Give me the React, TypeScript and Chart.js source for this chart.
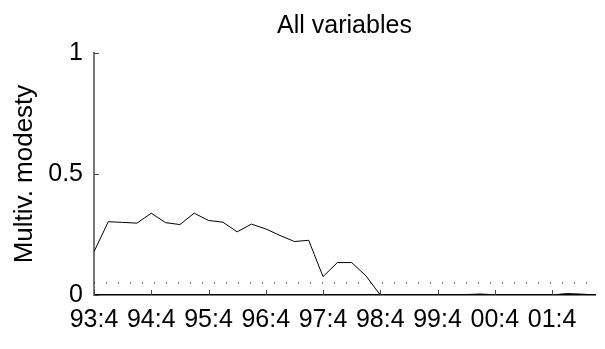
import React, { useEffect, useRef } from "react";
import { Chart, registerables } from "chart.js";

Chart.register(...registerables);

const titleText = "All variables";
const yAxisTitle = "Multiv. modesty";

const quarters = [
  "93:4",
  "94:1", "94:2", "94:3", "94:4",
  "95:1", "95:2", "95:3", "95:4",
  "96:1", "96:2", "96:3", "96:4",
  "97:1", "97:2", "97:3", "97:4",
  "98:1", "98:2", "98:3", "98:4",
  "99:1", "99:2", "99:3", "99:4",
  "00:1", "00:2", "00:3", "00:4",
  "01:1", "01:2", "01:3", "01:4",
  "02:1", "02:2", "02:3",
];

const modesty = [
  0.179, 0.303, 0.3, 0.297, 0.338, 0.299, 0.291, 0.338, 0.308, 0.301,
  0.261, 0.293, 0.273, 0.246, 0.221, 0.226, 0.076, 0.134, 0.134, 0.079,
  0, 0, 0, 0, 0, 0, 0.002, 0.004, 0.001, 0,
  0, 0, 0, 0.006, 0.004, 0,
];

const threshold = 0.05;
const xTickLabels = ["93:4", "94:4", "95:4", "96:4", "97:4", "98:4", "99:4", "00:4", "01:4"];
const yTickValues = [0, 0.5, 1];

const FONT = '"Liberation Sans", Arial, Helvetica, sans-serif';

export default function App() {
  const ref = useRef<HTMLCanvasElement | null>(null);

  useEffect(() => {
    const canvas = ref.current;
    if (!canvas) return;

    const overlay = {
      id: "overlay",
      afterDraw(chart: any) {
        const { ctx, chartArea, scales } = chart;
        const xs = scales.x;
        const ys = scales.y;
        ctx.save();
        // inward tick marks
        ctx.strokeStyle = "#444";
        ctx.lineWidth = 1;
        xTickLabels.forEach((lab) => {
          const i = quarters.indexOf(lab);
          const px = Math.round(xs.getPixelForValue(i)) + 0.5;
          ctx.beginPath();
          ctx.moveTo(px, chartArea.bottom);
          ctx.lineTo(px, chartArea.bottom - 5);
          ctx.stroke();
        });
        yTickValues.forEach((v) => {
          const py = Math.round(ys.getPixelForValue(v)) + 0.5;
          ctx.beginPath();
          ctx.moveTo(chartArea.left, py);
          ctx.lineTo(chartArea.left + 5, py);
          ctx.stroke();
        });
        // title
        ctx.fillStyle = "#000";
        ctx.font = "25px " + FONT;
        ctx.textAlign = "center";
        ctx.textBaseline = "alphabetic";
        ctx.fillText(titleText, (chartArea.left + chartArea.right) / 2, 33);
        ctx.restore();
      },
    };

    const chart = new Chart(canvas, {
      type: "line",
      data: {
        labels: quarters,
        datasets: [
          {
            data: modesty,
            borderColor: "#000",
            borderWidth: 1,
            pointRadius: 0,
            fill: false,
            tension: 0,
          },
          {
            data: [
              { x: quarters[0], y: threshold },
              { x: quarters[quarters.length - 1], y: threshold },
            ] as any,
            borderColor: "#000",
            borderWidth: 1,
            borderDash: [1, 11],
            pointRadius: 0,
            fill: false,
          },
        ],
      },
      options: {
        animation: false,
        responsive: false,
        devicePixelRatio: 1,
        layout: { padding: { top: 53, right: 5, left: 0, bottom: 0 } },
        plugins: {
          legend: { display: false },
          title: { display: false },
          tooltip: { enabled: false },
        },
        scales: {
          x: {
            type: "category",
            offset: false,
            grid: { display: false, drawTicks: false },
            border: { display: true, color: "#000", width: 1.5 },
            ticks: {
              autoSkip: false,
              maxRotation: 0,
              minRotation: 0,
              padding: 10,
              color: "#000",
              font: { family: FONT, size: 25 },
              callback: (_v: any, i: number) =>
                xTickLabels.includes(quarters[i]) ? quarters[i] : "",
            },
            afterFit: (s: any) => {
              s.height = 54;
            },
          },
          y: {
            min: 0,
            max: 1,
            grid: { display: false, drawTicks: false },
            border: { display: true, color: "#777", width: 2 },
            afterBuildTicks: (s: any) => {
              s.ticks = yTickValues.map((v) => ({ value: v }));
            },
            ticks: {
              padding: 11,
              color: "#000",
              font: { family: FONT, size: 25 },
              callback: (v: any) => String(v),
            },
            title: {
              display: true,
              text: yAxisTitle,
              color: "#000",
              font: { family: FONT, size: 26 },
              padding: { top: 9, bottom: 0 },
            },
            afterFit: (s: any) => {
              s.width = 94;
            },
          },
        },
      },
      plugins: [overlay],
    });

    return () => chart.destroy();
  }, []);

  return (
    <div style={{ position: "absolute", left: 0, top: 0, width: 605, height: 349, background: "#fff" }}>
      <canvas ref={ref} width={605} height={349} style={{ width: 605, height: 349, display: "block" }} />
    </div>
  );
}
